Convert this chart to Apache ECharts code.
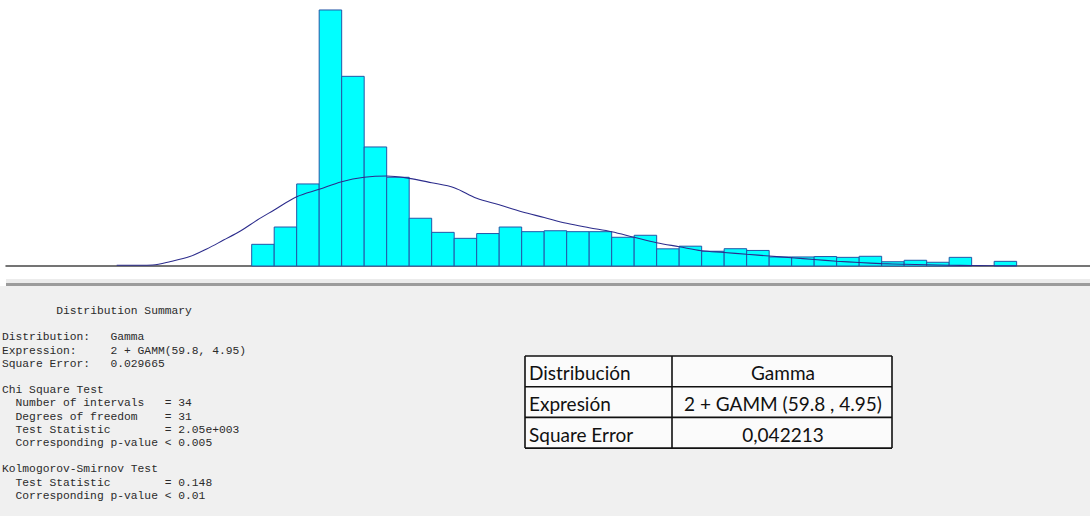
<!DOCTYPE html>
<html>
<head>
<meta charset="utf-8">
<script src="https://cdn.jsdelivr.net/npm/echarts@6/dist/echarts.min.js"></script>
<style>
  html, body { margin: 0; padding: 0; background: #ffffff; }
  #chart { width: 1090px; height: 516px; }
</style>
</head>
<body>
<div id="chart"></div>
<script>
// Histogram intervals (interval number, width 1) and relative frequencies
const binStart = [0, 1, 2, 3, 4, 5, 6, 7, 8, 9, 10, 11, 12, 13, 14, 15, 16,
                  17, 18, 19, 20, 21, 22, 23, 24, 25, 26, 27, 28, 29, 30, 31, 32, 33];
const binFreq = [0.0163, 0.0293, 0.0617, 0.1925, 0.1426, 0.0895, 0.0667, 0.0359,
                 0.0253, 0.0208, 0.0244, 0.0293, 0.0258, 0.0265, 0.0258, 0.0258,
                 0.0216, 0.0231, 0.0129, 0.0149, 0.0111, 0.0130, 0.0117, 0.0068,
                 0.0068, 0.0071, 0.0065, 0.0073, 0.0032, 0.0043, 0.0028, 0.0065,
                 0.0000, 0.0035];

// Fitted gamma density, sampled along the same interval scale
const fitX = [-6, -5, -4.4, -3.6, -2.75, -2, -1.25, -0.5, 0.25, 1, 2, 3, 4, 5, 6, 7,
              8, 9, 10, 11, 12, 13, 14, 15, 16, 17, 18, 19, 20, 21, 22, 23, 24, 25,
              26, 27, 28, 29, 30, 31, 32, 33, 34];
const fitY = [0.0006, 0.0006, 0.0008, 0.0034, 0.0071, 0.0128, 0.0195, 0.0263, 0.0346,
              0.0421, 0.0521, 0.0577, 0.0634, 0.0667, 0.0677, 0.0659, 0.0626, 0.0589,
              0.0509, 0.0460, 0.0408, 0.0365, 0.0321, 0.0288, 0.0258, 0.0216, 0.0175,
              0.0145, 0.0115, 0.0102, 0.0088, 0.0075, 0.0062, 0.0049, 0.0036, 0.0026,
              0.0018, 0.0013, 0.0009, 0.0006, 0.0004, 0.0002, 0.0002];

// Distribution summary text
const summaryHeader = 'Distribution Summary';
const fitLabels = ['Distribution:', 'Expression:', 'Square Error:'];
const fitValues = ['Gamma', '2 + GAMM(59.8, 4.95)', '0.029665'];
const chiHeader = 'Chi Square Test';
const chiLabels = ['Number of intervals', 'Degrees of freedom', 'Test Statistic', 'Corresponding p-value'];
const chiValues = ['= 34', '= 31', '= 2.05e+003', '< 0.005'];
const ksHeader = 'Kolmogorov-Smirnov Test';
const ksLabels = ['Test Statistic', 'Corresponding p-value'];
const ksValues = ['= 0.148', '< 0.01'];

// Summary table
const tableLabels = ['Distribución', 'Expresión', 'Square Error'];
const tableValues = ['Gamma', '2 + GAMM (59.8 , 4.95)', '0,042213'];

const W = 1090, H = 516;
const chart = echarts.init(document.getElementById('chart'), null, { renderer: 'svg', width: W, height: H });

// ---- monospace report block ----
const monoSize = 11.3;
const cw = monoSize * 0.6;          // Liberation Mono advance
const x0 = 2, y0 = 311, lh = 13.2;
const monoFont = monoSize + 'px "Liberation Mono", "Courier New", monospace';
const graphics = [];

// panel background and separator under the plot
graphics.push({ type: 'rect', silent: true, z: 0, shape: { x: 0, y: 286, width: W, height: H - 286 }, style: { fill: '#f0f0f0' } });
graphics.push({ type: 'rect', silent: true, z: 0, shape: { x: 6, y: 279, width: W - 6, height: 4 }, style: { fill: '#ececec' } });
graphics.push({ type: 'rect', silent: true, z: 0, shape: { x: 6, y: 283, width: W - 6, height: 3 }, style: { fill: '#9c9c9c' } });

function mono(col, row, text) {
  graphics.push({
    type: 'text', silent: true, z: 5,
    style: {
      text: text, x: x0 + col * cw, y: y0 + row * lh,
      font: monoFont, fill: '#2b2b2b',
      textAlign: 'left', textVerticalAlign: 'middle'
    }
  });
}
mono(8, 0, summaryHeader);
fitLabels.forEach((t, i) => { mono(0, 2 + i, t); mono(16, 2 + i, fitValues[i]); });
mono(0, 6, chiHeader);
chiLabels.forEach((t, i) => { mono(2, 7 + i, t); mono(24, 7 + i, chiValues[i]); });
mono(0, 12, ksHeader);
ksLabels.forEach((t, i) => { mono(2, 13 + i, t); mono(24, 13 + i, ksValues[i]); });

// ---- table ----
const tL = 525, tM = 672, tR = 892, tT = 356, rowH = 30.7;
const tB = tT + rowH * tableLabels.length;
graphics.push({ type: 'rect', silent: true, z: 3, shape: { x: tL, y: tT, width: tR - tL, height: tB - tT }, style: { fill: '#fbfbfb' } });
const lineStyle = { stroke: '#111111', lineWidth: 1.6 };
for (let r = 0; r <= tableLabels.length; r++) {
  const y = tT + r * rowH;
  graphics.push({ type: 'line', silent: true, z: 4, shape: { x1: tL, y1: y, x2: tR, y2: y }, style: lineStyle });
}
[tL, tM, tR].forEach(x => {
  graphics.push({ type: 'line', silent: true, z: 4, shape: { x1: x, y1: tT, x2: x, y2: tB }, style: lineStyle });
});
const tableFont = '19px Lato, "Open Sans", sans-serif';
tableLabels.forEach((t, i) => {
  const cy = tT + rowH * (i + 0.5) + 1.5;
  graphics.push({ type: 'text', silent: true, z: 5, style: { text: t, x: tL + 4, y: cy, font: tableFont, fill: '#111111', textAlign: 'left', textVerticalAlign: 'middle' } });
  graphics.push({ type: 'text', silent: true, z: 5, style: { text: tableValues[i], x: (tM + tR) / 2 + 1, y: cy, font: tableFont, fill: '#111111', textAlign: 'center', textVerticalAlign: 'middle' } });
});

const barData = binStart.map((s, i) => [s, binFreq[i]]);
const fitData = fitX.map((x, i) => [x, fitY[i]]);

chart.setOption({
  animation: false,
  backgroundColor: '#ffffff',
  grid: { left: 6, right: 0, top: 0, bottom: 250 },
  xAxis: {
    type: 'value', min: -10.92, max: 37.26,
    axisLine: { show: true, onZero: true, lineStyle: { color: '#474747', width: 1.5 } },
    axisTick: { show: false }, axisLabel: { show: false }, splitLine: { show: false }
  },
  yAxis: { type: 'value', min: 0, max: 0.2, show: false },
  series: [
    {
      type: 'custom',
      data: barData,
      z: 2,
      renderItem: function (params, api) {
        const s = api.value(0), v = api.value(1);
        if (!(v > 0)) return null;
        const p0 = api.coord([s, v]);
        const p1 = api.coord([s + 1, 0]);
        return {
          type: 'rect',
          shape: { x: p0[0], y: p0[1], width: p1[0] - p0[0], height: p1[1] - p0[1] },
          style: { fill: '#00ffff', stroke: '#2456a6', lineWidth: 1 }
        };
      }
    },
    {
      type: 'line',
      data: fitData,
      z: 3,
      smooth: 0.35,
      symbol: 'none',
      lineStyle: { color: '#2c2c8c', width: 1.1 }
    }
  ],
  graphic: graphics
});
</script>
</body>
</html>
